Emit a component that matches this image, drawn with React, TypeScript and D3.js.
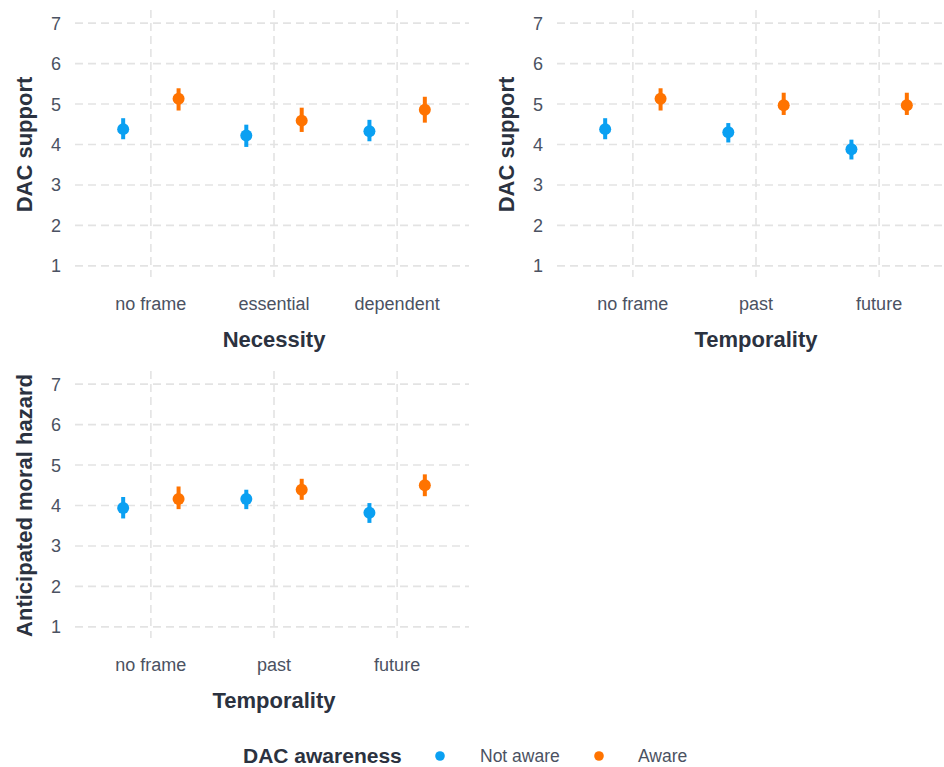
import React from "react";
import * as d3 from "d3";

const necessityCategories = ["no frame", "essential", "dependent"];
const temporalityCategories = ["no frame", "past", "future"];
const yTicks = [1, 2, 3, 4, 5, 6, 7];
const groups = ["Not aware", "Aware"];
const groupColors = ["#0aa0f2", "#ff7300"];

// Panel 1: DAC support by Necessity
const supportNecessityNotAware = [4.38, 4.22, 4.33];
const supportNecessityNotAwareLow = [4.13, 3.94, 4.08];
const supportNecessityNotAwareHigh = [4.65, 4.49, 4.61];
const supportNecessityAware = [5.13, 4.59, 4.86];
const supportNecessityAwareLow = [4.84, 4.31, 4.54];
const supportNecessityAwareHigh = [5.39, 4.91, 5.18];

// Panel 2: DAC support by Temporality
const supportTemporalityNotAware = [4.38, 4.3, 3.88];
const supportTemporalityNotAwareLow = [4.13, 4.05, 3.63];
const supportTemporalityNotAwareHigh = [4.65, 4.53, 4.12];
const supportTemporalityAware = [5.13, 4.97, 4.97];
const supportTemporalityAwareLow = [4.84, 4.73, 4.73];
const supportTemporalityAwareHigh = [5.39, 5.28, 5.28];

// Panel 3: Anticipated moral hazard by Temporality
const hazardNotAware = [3.94, 4.16, 3.82];
const hazardNotAwareLow = [3.68, 3.91, 3.57];
const hazardNotAwareHigh = [4.21, 4.39, 4.06];
const hazardAware = [4.16, 4.39, 4.5];
const hazardAwareLow = [3.91, 4.14, 4.23];
const hazardAwareHigh = [4.47, 4.66, 4.77];

const FONT = "'Liberation Sans', Arial, sans-serif";
const TICK_COLOR = "#4b5262";
const TITLE_COLOR = "#2b3240";
const GRID_COLOR = "#e3e3e3";

type Series = { mean: number[]; low: number[]; high: number[] };

type PanelProps = {
  ox: number;
  oy: number;
  categories: string[];
  series: Series[];
  xTitle: string;
  yTitle: string;
};

function Panel({ ox, oy, categories, series, xTitle, yTitle }: PanelProps) {
  const left = ox + 77;
  const right = ox + 471;
  const top = oy + 11;
  const bottom = oy + 278;
  const x = d3.scalePoint<string>().domain(categories).range([left, right]).padding(0.6);
  const y = d3.scaleLinear().domain([0.7, 7.3]).range([bottom, top]);
  const step = x.step();
  const dodge = 0.225 * step;
  const midX = (left + right) / 2;
  const midY = (top + bottom) / 2;
  return (
    <g>
      {yTicks.map((t) => (
        <line key={"h" + t} x1={left - 2} x2={right - 2} y1={y(t)} y2={y(t)} stroke={GRID_COLOR} strokeWidth={1.6} strokeDasharray="8,5" />
      ))}
      {categories.map((c) => (
        <line key={"v" + c} x1={x(c)} x2={x(c)} y1={top - 1} y2={bottom - 1} stroke={GRID_COLOR} strokeWidth={1.6} strokeDasharray="8,5" />
      ))}
      {yTicks.map((t) => (
        <text key={"yt" + t} x={left - 16} y={y(t)} dy="0.36em" textAnchor="end" fontSize={18} fill={TICK_COLOR} fontFamily={FONT}>
          {t}
        </text>
      ))}
      {categories.map((c) => (
        <text key={"xt" + c} x={x(c)} y={bottom + 32} textAnchor="middle" fontSize={18} fill={TICK_COLOR} fontFamily={FONT}>
          {c}
        </text>
      ))}
      <text x={midX} y={bottom + 69} textAnchor="middle" fontSize={22} fontWeight="bold" fill={TITLE_COLOR} fontFamily={FONT}>
        {xTitle}
      </text>
      <text
        transform={`translate(${ox + 32},${midY}) rotate(-90)`}
        textAnchor="middle"
        fontSize={22}
        fontWeight="bold"
        fill={TITLE_COLOR}
        fontFamily={FONT}
      >
        {yTitle}
      </text>
      {series.map((s, gi) =>
        categories.map((c, ci) => {
          const cx = (x(c) as number) + (gi === 0 ? -dodge : dodge);
          return (
            <g key={"p" + gi + "-" + ci}>
              <line x1={cx} x2={cx} y1={y(s.low[ci])} y2={y(s.high[ci])} stroke={groupColors[gi]} strokeWidth={4} />
              <circle cx={cx} cy={y(s.mean[ci])} r={6} fill={groupColors[gi]} />
            </g>
          );
        })
      )}
    </g>
  );
}

export default function App() {
  return (
    <svg width={944} height={767} style={{ position: "absolute", left: 0, top: 0, background: "#fff" }}>
      <defs>
        <clipPath id="page">
          <rect x={0} y={0} width={944} height={767} />
        </clipPath>
      </defs>
      <rect x={0} y={0} width={944} height={767} fill="#fff" />
      <g clipPath="url(#page)">
        <Panel
          ox={0}
          oy={0}
          categories={necessityCategories}
          series={[
            { mean: supportNecessityNotAware, low: supportNecessityNotAwareLow, high: supportNecessityNotAwareHigh },
            { mean: supportNecessityAware, low: supportNecessityAwareLow, high: supportNecessityAwareHigh },
          ]}
          xTitle="Necessity"
          yTitle="DAC support"
        />
        <Panel
          ox={482}
          oy={0}
          categories={temporalityCategories}
          series={[
            { mean: supportTemporalityNotAware, low: supportTemporalityNotAwareLow, high: supportTemporalityNotAwareHigh },
            { mean: supportTemporalityAware, low: supportTemporalityAwareLow, high: supportTemporalityAwareHigh },
          ]}
          xTitle="Temporality"
          yTitle="DAC support"
        />
        <Panel
          ox={0}
          oy={361}
          categories={temporalityCategories}
          series={[
            { mean: hazardNotAware, low: hazardNotAwareLow, high: hazardNotAwareHigh },
            { mean: hazardAware, low: hazardAwareLow, high: hazardAwareHigh },
          ]}
          xTitle="Temporality"
          yTitle="Anticipated moral hazard"
        />
      </g>
      <g>
        <text x={243} y={763} fontSize={21} fontWeight="bold" fill={TITLE_COLOR} fontFamily={FONT}>
          DAC awareness
        </text>
        {groups.map((g, i) => (
          <g key={g}>
            <circle cx={440 + i * 159} cy={756} r={4.8} fill={groupColors[i]} />
            <text x={480 + i * 158} y={762} fontSize={17.5} fill={TICK_COLOR} fontFamily={FONT}>
              {g}
            </text>
          </g>
        ))}
      </g>
    </svg>
  );
}
